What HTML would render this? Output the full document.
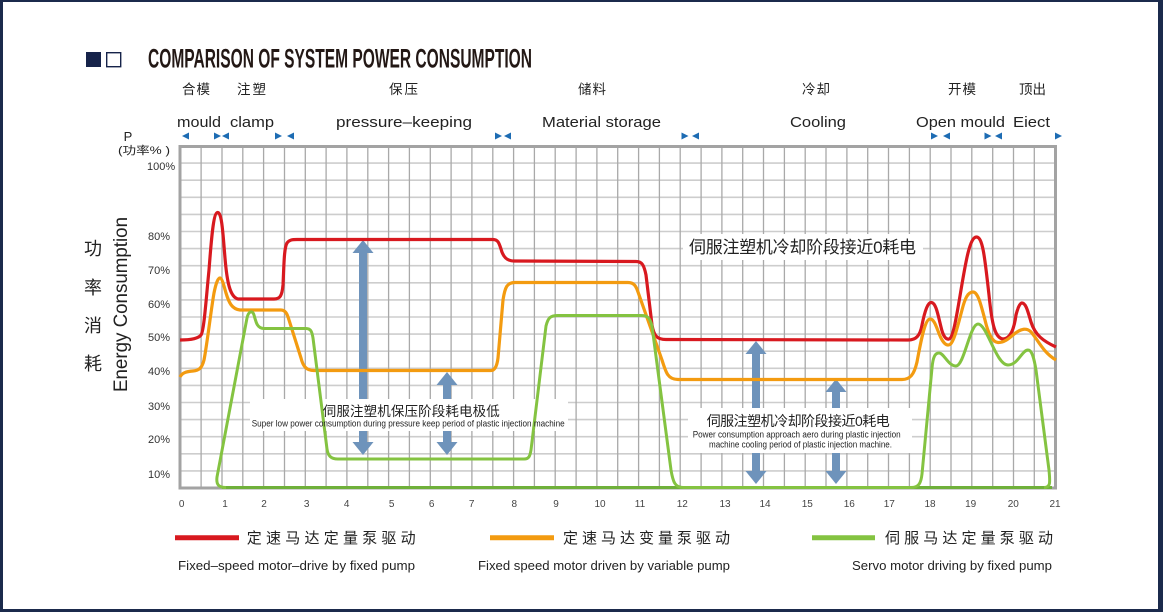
<!DOCTYPE html>
<html>
<head>
<meta charset="utf-8">
<style>
html,body{margin:0;padding:0;background:#fff;}
svg{display:block;}
</style>
</head>
<body>
<svg width="1163" height="612" viewBox="0 0 1163 612" xmlns="http://www.w3.org/2000/svg" font-family="'Liberation Sans','Noto Sans CJK SC',sans-serif">
  <rect x="0" y="0" width="1163" height="612" fill="#ffffff"/>
  <!-- navy frame -->
  <rect x="0" y="0" width="3" height="612" fill="#1b2a4c"/>
  <rect x="0" y="0" width="1163" height="2" fill="#1b2a4c"/>
  <rect x="0" y="609" width="1163" height="3" fill="#1b2a4c"/>
  <rect x="1158" y="0" width="5" height="612" fill="#1b2a4c"/>

  <!-- title -->
  <rect x="86" y="52" width="15" height="15" fill="#16234a"/>
  <rect x="106.7" y="52.7" width="14" height="14" fill="none" stroke="#16234a" stroke-width="1.4"/>
  <text x="148" y="67.5" font-family="'Liberation Sans Narrow','Liberation Sans',sans-serif" font-weight="bold" font-size="27" fill="#231815" textLength="384" lengthAdjust="spacingAndGlyphs">COMPARISON OF SYSTEM POWER CONSUMPTION</text>

  <!-- phase labels (Chinese) -->
  <g font-size="13.5" fill="#222">
    <text x="182" y="94" textLength="28">合模</text>
    <text x="237" y="94" textLength="29">注塑</text>
    <text x="389" y="94" textLength="29">保压</text>
    <text x="578" y="94" textLength="28">储料</text>
    <text x="802" y="94" textLength="28">冷却</text>
    <text x="948" y="94" textLength="28">开模</text>
    <text x="1019" y="94" textLength="27">顶出</text>
  </g>
  <!-- phase labels (English) -->
  <g font-size="15" fill="#222" lengthAdjust="spacingAndGlyphs">
    <text x="177" y="127" textLength="44" lengthAdjust="spacingAndGlyphs">mould</text>
    <text x="230" y="127" textLength="44" lengthAdjust="spacingAndGlyphs">clamp</text>
    <text x="336" y="127" textLength="136" lengthAdjust="spacingAndGlyphs">pressure–keeping</text>
    <text x="542" y="127" textLength="119" lengthAdjust="spacingAndGlyphs">Material storage</text>
    <text x="790" y="127" textLength="56" lengthAdjust="spacingAndGlyphs">Cooling</text>
    <text x="916" y="127" textLength="89" lengthAdjust="spacingAndGlyphs">Open mould</text>
    <text x="1013" y="127" textLength="37" lengthAdjust="spacingAndGlyphs">Eiect</text>
  </g>
  <!-- markers -->
  <g fill="#1d6cb3">
    <polygon points="189,132.5 182,136 189,139.5"/>
    <polygon points="214,132.5 221,136 214,139.5"/>
    <polygon points="229,132.5 222,136 229,139.5"/>
    <polygon points="275,132.5 282,136 275,139.5"/>
    <polygon points="294,132.5 287,136 294,139.5"/>
    <polygon points="495,132.5 502,136 495,139.5"/>
    <polygon points="511,132.5 504,136 511,139.5"/>
    <polygon points="681.5,132.5 688.5,136 681.5,139.5"/>
    <polygon points="699,132.5 692,136 699,139.5"/>
    <polygon points="931,132.5 938,136 931,139.5"/>
    <polygon points="950,132.5 943,136 950,139.5"/>
    <polygon points="984.5,132.5 991.5,136 984.5,139.5"/>
    <polygon points="1002,132.5 995,136 1002,139.5"/>
    <polygon points="1055,132.5 1062,136 1055,139.5"/>
  </g>

  <!-- P label -->
  <text x="128" y="141" font-size="13" fill="#222" text-anchor="middle">P</text>
  <text x="118" y="154" font-size="11" fill="#222" textLength="52" lengthAdjust="spacingAndGlyphs">(功率% )</text>

  <!-- left vertical labels -->
  <g font-size="18" fill="#222" text-anchor="middle">
    <text x="93" y="255">功</text>
    <text x="93" y="294">率</text>
    <text x="93" y="332">消</text>
    <text x="93" y="370">耗</text>
  </g>
  <text transform="translate(127,304.5) rotate(-90)" font-size="19.5" fill="#222" text-anchor="middle" textLength="175" lengthAdjust="spacingAndGlyphs">Energy Consumption</text>

  <!-- y labels -->
  <g font-size="11" fill="#333">
    <text x="147" y="170">100%</text>
    <text x="148" y="240">80%</text>
    <text x="148" y="274">70%</text>
    <text x="148" y="308">60%</text>
    <text x="148" y="341">50%</text>
    <text x="148" y="375">40%</text>
    <text x="148" y="410">30%</text>
    <text x="148" y="443">20%</text>
    <text x="148" y="478">10%</text>
  </g>

  <!-- grid -->
  <path fill="none" stroke="#cdcdcd" stroke-width="1.6" d="M180 163.1H1055M180 180.2H1055M180 197.3H1055M180 214.4H1055M180 231.5H1055M180 248.6H1055M180 265.7H1055M180 282.8H1055M180 299.9H1055M180 317H1055M180 334.1H1055M180 351.2H1055M180 368.3H1055M180 385.4H1055M180 402.5H1055M180 419.6H1055M180 436.7H1055M180 453.8H1055M180 470.9H1055"/>
  <path fill="none" stroke="#a9a9a9" stroke-width="1.3" d="M201.1 146V488M222 146V488M242.8 146V488M263.6 146V488M284.5 146V488M305.3 146V488M326.1 146V488M346.9 146V488M367.8 146V488M388.6 146V488M409.4 146V488M430.3 146V488M451.1 146V488M471.9 146V488M492.8 146V488M513.6 146V488M534.4 146V488M555.2 146V488M576.1 146V488M596.9 146V488M617.7 146V488M638.6 146V488M659.4 146V488M680.2 146V488M701.1 146V488M721.9 146V488M742.7 146V488M763.5 146V488M784.4 146V488M805.2 146V488M826 146V488M846.9 146V488M867.7 146V488M888.5 146V488M909.4 146V488M930.2 146V488M951 146V488M971.8 146V488M992.7 146V488M1013.5 146V488M1034.3 146V488"/>
  <rect x="180" y="146.5" width="875.5" height="341.5" fill="none" stroke="#a3a3a3" stroke-width="3"/>

  <!-- arrows -->
  <g fill="#6e93bb">
    <rect x="359" y="251" width="8" height="194"/>
    <polygon points="363,240 373.5,253 352.5,253"/>
    <polygon points="363,455 373.5,442 352.5,442"/>
    <rect x="443" y="383" width="8" height="62"/>
    <polygon points="447,372 457.5,385 436.5,385"/>
    <polygon points="447,455 457.5,442 436.5,442"/>
    <rect x="752" y="352" width="8" height="122"/>
    <polygon points="756,341 766.5,354 745.5,354"/>
    <polygon points="756,484 766.5,471 745.5,471"/>
    <rect x="832" y="390" width="8" height="84"/>
    <polygon points="836,379 846.5,392 825.5,392"/>
    <polygon points="836,484 846.5,471 825.5,471"/>
  </g>

  <!-- text boxes -->
  <rect x="250" y="399" width="318" height="32" fill="#ffffff"/>
  <rect x="688" y="408" width="224" height="45" fill="#ffffff"/>
  <rect x="683" y="234" width="240" height="26" fill="#ffffff"/>

  <!-- curves -->
  <path fill="none" stroke="#d8191f" stroke-width="3.2" stroke-linejoin="round" d="M180 340 C190 340,198 339,201 335 C204 331,206 300,209 270 C211 245,213 213,217.5 212.5 C222 212,223 235,225 258 C227 282,230 297,238 299 L274 299 C280 299,282 296,283 285 C284 265,284 248,287 243 C289 240,292 239.5,297 239.5 L493 239.5 C498 239.5,499 243,501 249 C503 257,507 261,514 261 L636 261.5 C642 261.5,644 265,646 275 L652 325 C654 336,657 339.5,666 339.5 L908 340 C916 340,920 336,922 325 C925 310,928 302,931.5 302.5 C936 303,938 315,941 327 C943 336,946 340,949 339 C953 338,956 320,961 290 C966 260,970 237,976.5 237 C983 237,985 260,989 295 C992 325,995 338,1003 339 C1010 339,1014 330,1016 315 C1018 307,1020 303,1022 303 C1026 303,1028 312,1031 322 C1035 335,1043 341,1056 347"/>
  <path fill="none" stroke="#f39b10" stroke-width="3.2" stroke-linejoin="round" d="M180 377 C182 373,186 371.5,193 371 C199 370.5,202 368,204 360 C207 345,211 310,214 293 C216 283,218 278,220 278 C222 278,224 286,226 293 C229 303,232 309,240 310 L281 310 C285 310,287 313,289 320 L301 358 C303 366,306 370.5,314 370.5 L491 370.5 C495 370.5,497 366,498 358 L503 300 C505 287,507 282.5,515 282.5 L628 282.5 C634 282.5,636 286,638 292 L662 360 C666 373,668 379.5,678 379.5 L902 379.5 C910 379.5,914 375,917 362 C921 340,925 319,930 319 C935 319,937 330,941 338 C944 344,947 346,950 344.5 C954 342,958 325,962 310 C965 298,968 292,973 292 C978 292,981 305,985 320 C988 333,992 342,998 342.5 C1006 343,1012 335,1017 332 C1022 329,1026 328,1030 331 C1036 336,1042 352,1056 360"/>
  <line x1="222" y1="487.5" x2="1052" y2="487.5" stroke="#6fb03a" stroke-width="3"/>
  <path fill="none" stroke="#84c341" stroke-width="3" stroke-linejoin="round" d="M226 487.5 C219 487.5,216 485,217 477 L247 318 C248.5 311,252.5 310,254 315 C256 322,257 328.5,264 328.5 L306 328.5 C311 328.5,312 332,313 338 L327 449 C328 456,331 459,338 459 L524 459 C529 459,530 456,531 450 L546 326 C548 318,550 315.5,558 315.5 L641 315.5 C648 315.5,650 318,652 326 L671 470 C673 482,675 487.5,683 487.5 L911 487.5 C919 487.5,921 483,922 474 L932 368 C933 357,935 353,939 353 C944 353,948 366,956 366 C964 366,970 324,978 324 C987 324,996 365,1008 365 C1018 365,1022 350,1028 350 C1032 350,1034 358,1036 370 L1049 470 C1050 482,1051 487.5,1044 487.5"/>

  <!-- box texts -->
  <text x="322.7" y="416" font-size="13.5" fill="#222" textLength="177">伺服注塑机保压阶段耗电极低</text>
  <text x="251.7" y="426.5" font-size="9.5" fill="#222" textLength="313" lengthAdjust="spacingAndGlyphs">Super low power consumption during pressure keep period of plastic injection machine</text>
  <text x="706.7" y="426" font-size="14" fill="#222" textLength="183">伺服注塑机冷却阶段接近0耗电</text>
  <text x="692.7" y="437.5" font-size="9" fill="#222" textLength="208" lengthAdjust="spacingAndGlyphs">Power consumption approach aero during plastic injection</text>
  <text x="709" y="447.5" font-size="9" fill="#222" textLength="183" lengthAdjust="spacingAndGlyphs">machine cooling period of plastic injection machine.</text>
  <text x="689" y="253" font-size="17" fill="#222" textLength="227">伺服注塑机冷却阶段接近0耗电</text>

  <!-- x tick labels -->
  <g font-size="10" fill="#444" text-anchor="middle">
    <text x="181.7" y="507">0</text>
    <text x="225" y="507">1</text>
    <text x="264" y="507">2</text>
    <text x="306.7" y="507">3</text>
    <text x="346.7" y="507">4</text>
    <text x="391.7" y="507">5</text>
    <text x="431.7" y="507">6</text>
    <text x="471.7" y="507">7</text>
    <text x="514.3" y="507">8</text>
    <text x="556" y="507">9</text>
    <text x="600" y="507">10</text>
    <text x="640" y="507">11</text>
    <text x="682.3" y="507">12</text>
    <text x="725" y="507">13</text>
    <text x="765" y="507">14</text>
    <text x="807.3" y="507">15</text>
    <text x="849.3" y="507">16</text>
    <text x="889.3" y="507">17</text>
    <text x="930" y="507">18</text>
    <text x="970.7" y="507">19</text>
    <text x="1013.3" y="507">20</text>
    <text x="1055" y="507">21</text>
  </g>

  <!-- legend -->
  <line x1="175" y1="537.7" x2="239" y2="537.7" stroke="#d8191f" stroke-width="5"/>
  <text x="246.7" y="543" font-size="15" fill="#222" textLength="169">定速马达定量泵驱动</text>
  <text x="178" y="570" font-size="13" fill="#222" textLength="237" lengthAdjust="spacingAndGlyphs">Fixed–speed motor–drive by fixed pump</text>

  <line x1="490" y1="537.7" x2="554" y2="537.7" stroke="#f39b10" stroke-width="5"/>
  <text x="563" y="543" font-size="15" fill="#222" textLength="167">定速马达变量泵驱动</text>
  <text x="478" y="570" font-size="13" fill="#222" textLength="252" lengthAdjust="spacingAndGlyphs">Fixed speed motor driven by variable pump</text>

  <line x1="812" y1="537.7" x2="875" y2="537.7" stroke="#84c341" stroke-width="5"/>
  <text x="885" y="543" font-size="15" fill="#222" textLength="168">伺服马达定量泵驱动</text>
  <text x="852" y="570" font-size="13" fill="#222" textLength="200" lengthAdjust="spacingAndGlyphs">Servo motor driving by fixed pump</text>
</svg>
</body>
</html>
